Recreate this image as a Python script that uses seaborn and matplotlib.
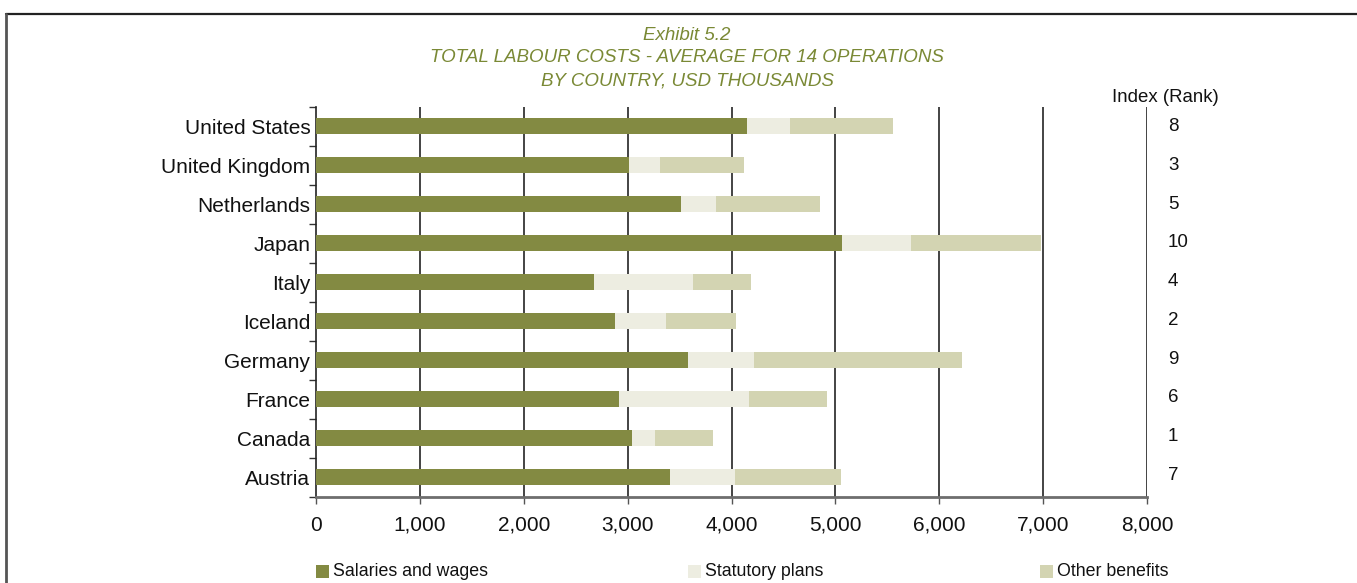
import matplotlib
matplotlib.use("Agg")
import matplotlib.pyplot as plt
import matplotlib.transforms as mtransforms
from matplotlib.lines import Line2D
from matplotlib.ticker import FuncFormatter, FixedLocator
import seaborn as sns
import pandas as pd
import numpy as np

countries = ["United States", "United Kingdom", "Netherlands", "Japan", "Italy",
             "Iceland", "Germany", "France", "Canada", "Austria"]
salaries = [4150, 3010, 3515, 5060, 2680, 2880, 3580, 2915, 3040, 3405]
statutory = [415, 300, 340, 670, 950, 485, 640, 1255, 225, 630]
other = [990, 810, 1000, 1250, 560, 675, 2000, 750, 560, 1020]
ranks = [8, 3, 5, 10, 4, 2, 9, 6, 1, 7]
series_names = ["Salaries and wages", "Statutory plans", "Other benefits"]

c_sal = "#838A42"
c_stat = "#EDEDE1"
c_oth = "#D3D4B2"
title_color = "#7A8935"

sns.set_theme(style="white")
plt.rcParams["font.family"] = ["Liberation Sans", "DejaVu Sans"]

df = pd.DataFrame({"country": countries, "sal": salaries,
                   "stat": statutory, "oth": other})
df["cum_stat"] = df["sal"] + df["stat"]
df["total"] = df["cum_stat"] + df["oth"]

fig = plt.figure(figsize=(13.57, 5.83), dpi=100)
ax = fig.add_axes([316 / 1357, 1 - 496.5 / 583, (1147 - 316) / 1357, (496.5 - 107) / 583])

# stacked horizontal bars: draw cumulative totals back to front
for col, color in [("total", c_oth), ("cum_stat", c_stat), ("sal", c_sal)]:
    sns.barplot(data=df, x=col, y="country", order=countries, color=color,
                width=0.41, orient="h", ax=ax, saturation=1, linewidth=0, zorder=3)

ax.set_xlim(0, 8000)
ax.set_ylim(9.5, -0.5)
ax.set_xlabel("")
ax.set_ylabel("")
ax.xaxis.set_major_locator(FixedLocator(np.arange(0, 8001, 1000)))
ax.xaxis.set_major_formatter(FuncFormatter(lambda v, p: f"{int(v):,}"))
ax.tick_params(axis="x", which="major", length=5, width=1, color="#555555",
               labelsize=15, pad=9, labelcolor="#111111", bottom=True, direction="out")
ax.tick_params(axis="y", which="major", length=0, labelsize=15, pad=4, labelcolor="#111111")
ax.yaxis.set_minor_locator(FixedLocator(np.arange(-0.5, 10, 1)))
ax.tick_params(axis="y", which="minor", length=5, width=1, color="#333333", left=True,
               direction="out")

ax.grid(False)
for x in range(1000, 8001, 1000):
    ax.axvline(x, color="#111111", linewidth=1.1, zorder=1)

for side in ["top", "right"]:
    ax.spines[side].set_visible(False)
ax.spines["left"].set_color("#222222")
ax.spines["left"].set_linewidth(1.2)
ax.spines["bottom"].set_color("#6E6E6E")
ax.spines["bottom"].set_linewidth(2)

# rank index column to the right of the plot
trans = mtransforms.blended_transform_factory(fig.transFigure, ax.transData)
for i, r in enumerate(ranks):
    ax.text(1168 / 1357, i - 0.04 * i / 9, str(r), transform=trans, ha="left", va="center",
            fontsize=13.5, color="#111111")
fig.text(1112 / 1357, 1 - 97 / 583, "Index (Rank)", ha="left", va="center",
         fontsize=13.4, color="#111111")

# title block
title_kw = dict(ha="center", va="center", fontsize=13.5, style="italic",
                color=title_color)
fig.text(687 / 1357, 1 - 36 / 583, "Exhibit 5.2", **title_kw)
fig.text(687 / 1357, 1 - 58 / 583, "TOTAL LABOUR COSTS - AVERAGE FOR 14 OPERATIONS", **title_kw)
fig.text(687 / 1357, 1 - 81 / 583, "BY COUNTRY, USD THOUSANDS", **title_kw)

# legend entries spread across the bottom
legend_x = [316, 688, 1040]
for xpos, name, color in zip(legend_x, series_names, [c_sal, c_stat, c_oth]):
    fig.patches.append(plt.Rectangle((xpos / 1357, 1 - 578 / 583), 13 / 1357, 13 / 583,
                                     transform=fig.transFigure, facecolor=color,
                                     edgecolor="none", figure=fig))
    fig.text((xpos + 17) / 1357, 1 - 571.5 / 583, name, ha="left", va="center",
             fontsize=12.8, color="#111111")

# frame lines along the top and left edge
fig.add_artist(Line2D([6 / 1357, 1], [1 - 14 / 583, 1 - 14 / 583],
                      transform=fig.transFigure, color="#222222", linewidth=1.6))
fig.add_artist(Line2D([6 / 1357, 6 / 1357], [0, 1 - 14 / 583],
                      transform=fig.transFigure, color="#555555", linewidth=2))

fig.savefig("out.png", dpi=100, facecolor="white")
